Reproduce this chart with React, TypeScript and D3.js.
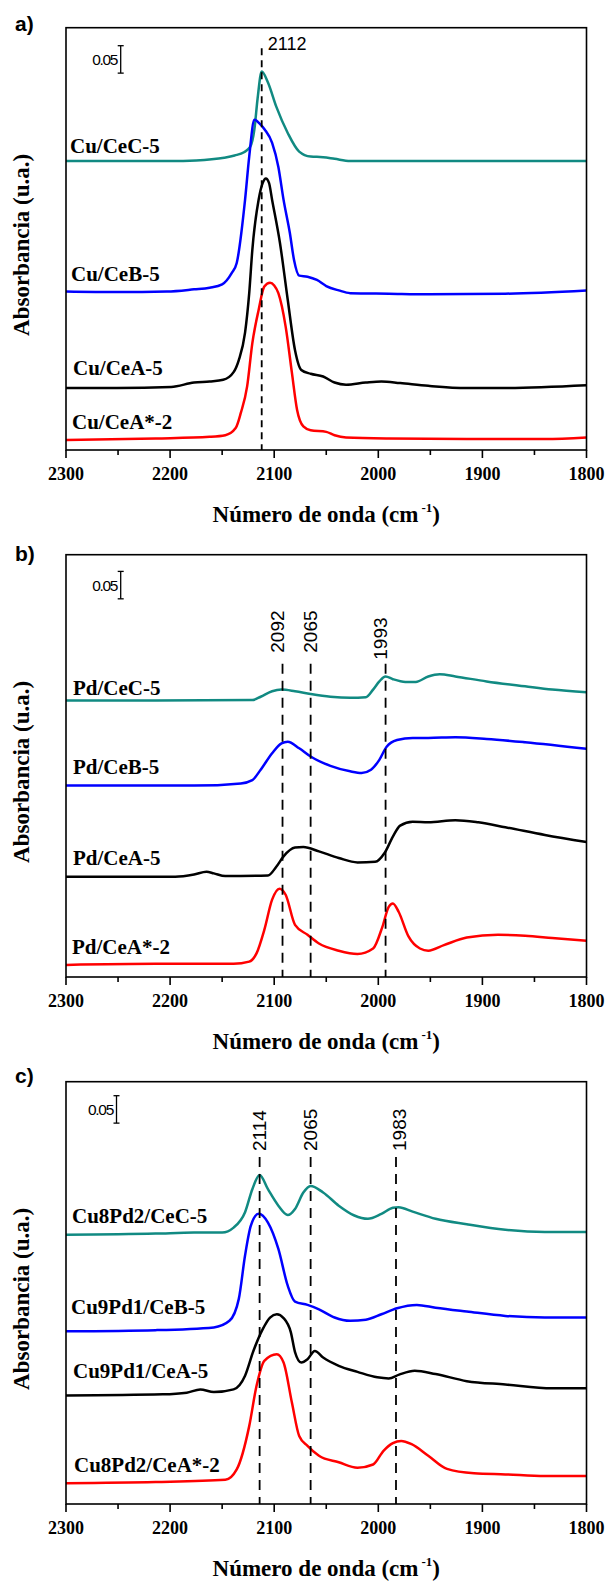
import React from 'react';
import * as d3 from 'd3';

type Pt = [number, number]; // [wavenumber (cm-1), absorbance incl. stacking offset]

// ---------- Panel a) ----------
const cuCeC5: Pt[] = [[2300,0.527],[2200,0.527],[2175,0.528],[2160,0.530],[2148,0.533],[2138,0.537],[2129,0.543],[2123,0.553],[2119,0.585],[2116,0.640],[2112,0.690],[2106,0.670],[2098,0.626],[2087,0.578],[2076,0.544],[2065,0.535],[2053,0.534],[2042,0.531],[2027,0.527],[1950,0.527],[1800,0.527]];
const cuCeB5: Pt[] = [[2300,0.289],[2251,0.288],[2203,0.289],[2177,0.293],[2162,0.296],[2150,0.302],[2141,0.322],[2136,0.341],[2128,0.456],[2124,0.535],[2119,0.602],[2114,0.595],[2109,0.584],[2102,0.560],[2096,0.516],[2091,0.456],[2085,0.396],[2081,0.347],[2076,0.318],[2068,0.316],[2059,0.310],[2050,0.299],[2038,0.291],[2027,0.286],[1990,0.285],[1952,0.284],[1878,0.285],[1800,0.291]];
const cuCeA5: Pt[] = [[2300,0.113],[2251,0.113],[2199,0.115],[2177,0.123],[2162,0.125],[2149,0.128],[2139,0.142],[2134,0.164],[2128,0.214],[2124,0.286],[2121,0.365],[2115,0.456],[2111,0.487],[2108,0.495],[2105,0.487],[2102,0.456],[2094.5,0.378],[2087,0.274],[2080,0.182],[2074,0.146],[2065,0.139],[2053,0.134],[2042,0.123],[2031,0.119],[2012,0.123],[1997,0.125],[1979,0.122],[1952,0.117],[1915,0.113],[1878,0.113],[1800,0.118]];
const cuCeAstar2: Pt[] = [[2300,0.018],[2214,0.021],[2162,0.024],[2147,0.027],[2137,0.040],[2132,0.068],[2126,0.116],[2121,0.195],[2115,0.255],[2109.5,0.298],[2104,0.305],[2100,0.300],[2096,0.286],[2089,0.225],[2083,0.141],[2078,0.073],[2072,0.043],[2065,0.036],[2050,0.033],[2042,0.027],[2031,0.023],[1990,0.021],[1915,0.020],[1840,0.020],[1800,0.023]];

// ---------- Panel b) ----------
const pdCeC5: Pt[] = [[2300,0.504],[2214,0.504],[2121,0.505],[2113,0.511],[2102,0.521],[2093,0.524],[2080,0.521],[2065,0.516],[2046,0.511],[2027,0.509],[2012,0.510],[2005,0.524],[1999,0.539],[1993,0.548],[1986,0.543],[1974,0.538],[1964,0.538],[1952,0.548],[1941,0.552],[1926,0.548],[1896,0.539],[1859,0.530],[1833,0.524],[1800,0.519]];
const pdCeB5: Pt[] = [[2300,0.349],[2177,0.349],[2132,0.353],[2121,0.359],[2113,0.378],[2102,0.408],[2093,0.426],[2087,0.429],[2076,0.417],[2065,0.402],[2046,0.385],[2027,0.375],[2016,0.372],[2007,0.378],[1999,0.396],[1992,0.420],[1982,0.432],[1967,0.436],[1952,0.436],[1926,0.437],[1896,0.434],[1859,0.428],[1800,0.416]];
const pdCeA5: Pt[] = [[2300,0.183],[2195,0.183],[2177,0.187],[2165,0.192],[2158,0.189],[2147,0.184],[2106,0.185],[2098,0.201],[2091,0.220],[2080,0.236],[2072,0.237],[2057,0.229],[2038,0.217],[2020,0.209],[2003,0.210],[1994,0.226],[1986,0.256],[1979,0.276],[1967,0.283],[1952,0.282],[1926,0.286],[1904,0.282],[1878,0.273],[1840,0.259],[1800,0.246]];
const pdCeAstar2: Pt[] = [[2300,0.022],[2214,0.024],[2139,0.024],[2124,0.028],[2117,0.043],[2109.5,0.086],[2102,0.141],[2095,0.161],[2089,0.150],[2080,0.095],[2068,0.077],[2057,0.061],[2038,0.048],[2020,0.042],[2005,0.052],[1996,0.092],[1990,0.128],[1986,0.134],[1980.5,0.119],[1971,0.074],[1960,0.052],[1952,0.048],[1937,0.058],[1915,0.072],[1885,0.077],[1859,0.075],[1833,0.071],[1800,0.066]];

// ---------- Panel c) ----------
const cu8pd2CeC5: Pt[] = [[2300,0.491],[2214,0.493],[2177,0.495],[2150,0.495],[2139,0.504],[2128,0.532],[2121,0.574],[2114,0.600],[2106,0.574],[2096,0.544],[2087,0.527],[2080,0.538],[2072,0.568],[2065,0.580],[2053,0.568],[2038,0.544],[2023,0.526],[2010,0.520],[1997,0.529],[1986,0.540],[1980.5,0.541],[1967,0.533],[1945,0.520],[1915,0.510],[1878,0.500],[1840,0.496],[1800,0.496]];
const cu9pd1CeB5: Pt[] = [[2300,0.315],[2214,0.317],[2158,0.322],[2143,0.334],[2134,0.374],[2128,0.453],[2122.5,0.507],[2115,0.529],[2106,0.513],[2096,0.465],[2087,0.398],[2080,0.369],[2068,0.363],[2057,0.355],[2042,0.340],[2027,0.334],[2012,0.336],[1997,0.346],[1982,0.357],[1963,0.363],[1945,0.358],[1915,0.351],[1878,0.343],[1840,0.340],[1800,0.340]];
const cu9pd1CeA5: Pt[] = [[2300,0.198],[2207,0.200],[2184,0.203],[2171,0.209],[2158,0.204],[2139,0.209],[2128,0.234],[2120,0.279],[2111,0.319],[2104,0.340],[2097.5,0.346],[2091,0.339],[2084,0.313],[2080,0.277],[2074,0.258],[2068,0.264],[2061,0.279],[2053,0.267],[2038,0.252],[2020,0.241],[2001,0.231],[1990,0.229],[1980,0.236],[1965,0.243],[1945,0.237],[1915,0.224],[1878,0.218],[1833,0.211],[1800,0.211]];
const cu8pd2CeAstar2: Pt[] = [[2300,0.038],[2214,0.040],[2147,0.044],[2136,0.063],[2124,0.142],[2117,0.215],[2109.5,0.261],[2097.5,0.273],[2091,0.258],[2083,0.185],[2076,0.124],[2068,0.106],[2057,0.088],[2038,0.076],[2020,0.066],[2005,0.072],[1995,0.097],[1986,0.111],[1978,0.115],[1968,0.109],[1952,0.088],[1934,0.064],[1908,0.056],[1878,0.054],[1840,0.051],[1800,0.051]];

// ---------- labels / ticks ----------
const labelsA = ['Cu/CeC-5', 'Cu/CeB-5', 'Cu/CeA-5', 'Cu/CeA*-2'];
const labelsB = ['Pd/CeC-5', 'Pd/CeB-5', 'Pd/CeA-5', 'Pd/CeA*-2'];
const labelsC = ['Cu8Pd2/CeC-5', 'Cu9Pd1/CeB-5', 'Cu9Pd1/CeA-5', 'Cu8Pd2/CeA*-2'];
const peaksA = [2112];
const peaksB = [2092, 2065, 1993];
const peaksC = [2114, 2065, 1983];
const panelLetters = ['a)', 'b)', 'c)'];
const xMajorTicks = [2300, 2200, 2100, 2000, 1900, 1800];
const xMinorTicks = [2250, 2150, 2050, 1950, 1850];
const xDomain: [number, number] = [2300, 1800];
const yDomain: [number, number] = [0, 0.77];
const scaleBarValue = 0.05;
const scaleBarLabel = '0.05';
const xTitle = 'Número de onda (cm';
const yTitle = 'Absorbancia (u.a.)';

// ---------- layout / style (not data) ----------
const COLORS = ['#118a82', '#0000ff', '#000000', '#ff0000'];
const LEFT = 66, RIGHT = 586.5;
const TOP0 = 27.7, STEP = 527, PANEL_H = 422.3;
const SERIF = '"Liberation Serif", "Times New Roman", serif';
const SANS = '"Liberation Sans", Arial, sans-serif';

const panels = [
  {
    series: [cuCeC5, cuCeB5, cuCeA5, cuCeAstar2], labels: labelsA, peaks: peaksA,
    labelY: [125.3, 253.3, 347.3, 401.3], labelX: [70, 71, 73, 72],
    letterY: 3.3, bar: { x: 120.7, top: 18 }, dash: '7,5',
    lineTop: 20.6, rotated: false, peakTextY: [22.3], peakDx: [6],
  },
  {
    series: [pdCeC5, pdCeB5, pdCeA5, pdCeAstar2], labels: labelsB, peaks: peaksB,
    labelY: [140, 219, 310, 399], labelX: [73, 73, 73, 72],
    letterY: 6.7, bar: { x: 120.7, top: 16.7 }, dash: '10,7',
    lineTop: 109, rotated: true, peakTextY: [98, 98, 105], peakDx: [-5.5, 0, -5.5],
  },
  {
    series: [cu8pd2CeC5, cu9pd1CeB5, cu9pd1CeA5, cu8pd2CeAstar2], labels: labelsC, peaks: peaksC,
    labelY: [141.3, 232.3, 296.3, 390], labelX: [72, 71, 73, 74],
    letterY: 1.5, bar: { x: 116.5, top: 14 }, dash: '10,7',
    lineTop: 75.3, rotated: true, peakTextY: [69.3, 69.3, 69.3], peakDx: [0, 0, 3],
  },
];

function Panel({ p, i }: { p: (typeof panels)[number]; i: number }) {
  const top = TOP0 + i * STEP;
  const bottom = top + PANEL_H;
  const x = d3.scaleLinear().domain(xDomain).range([LEFT, RIGHT]);
  const y = d3.scaleLinear().domain(yDomain).range([bottom, top]);
  const line = d3.line<Pt>().x(d => x(d[0])).y(d => y(d[1])).curve(d3.curveMonotoneX);
  const barLen = y(0) - y(scaleBarValue);
  const barTop = top + p.bar.top;
  const midY = (top + bottom) / 2 + 6;
  return (
    <g>
      <text x={15} y={top + p.letterY} fontFamily={SANS} fontWeight="bold" fontSize={21}>{panelLetters[i]}</text>
      {p.series.map((s, k) => (
        <path key={k} d={line(s) || ''} fill="none" stroke={COLORS[k]} strokeWidth={2.5} strokeLinejoin="round" />
      ))}
      {p.peaks.map((pk, k) => {
        const px = x(pk);
        return (
          <g key={k}>
            <line x1={px} x2={px} y1={top + p.lineTop} y2={bottom} stroke="#000" strokeWidth={1.8} strokeDasharray={p.dash} />
            {p.rotated ? (
              <text transform={`translate(${px + p.peakDx[k] + 6.8},${top + p.peakTextY[k]}) rotate(-90)`}
                fontFamily={SANS} fontSize={19}>{pk}</text>
            ) : (
              <text x={px + p.peakDx[k]} y={top + p.peakTextY[k]} fontFamily={SANS} fontSize={18}>{pk}</text>
            )}
          </g>
        );
      })}
      {p.labels.map((lb, k) => (
        <text key={k} x={p.labelX[k]} y={top + p.labelY[k]} fontFamily={SERIF} fontWeight="bold" fontSize={21}>{lb}</text>
      ))}
      <g stroke="#000" strokeWidth={1.3}>
        <line x1={p.bar.x} x2={p.bar.x} y1={barTop} y2={barTop + barLen} />
        <line x1={p.bar.x - 3} x2={p.bar.x + 3} y1={barTop} y2={barTop} />
        <line x1={p.bar.x - 3} x2={p.bar.x + 3} y1={barTop + barLen} y2={barTop + barLen} />
      </g>
      <text x={p.bar.x - 3.5} y={barTop + barLen / 2 + 5.5} textAnchor="end" fontFamily={SANS} fontSize={15.5} letterSpacing={-1.3}>{scaleBarLabel}</text>
      <rect x={LEFT} y={top} width={RIGHT - LEFT} height={PANEL_H} fill="none" stroke="#000" strokeWidth={1.6} />
      {xMajorTicks.map(t => (
        <g key={t}>
          <line x1={x(t)} x2={x(t)} y1={bottom} y2={bottom + 8} stroke="#000" strokeWidth={1.6} />
          <text x={x(t)} y={bottom + 29.5} textAnchor="middle" fontFamily={SERIF} fontWeight="bold" fontSize={18}>{t}</text>
        </g>
      ))}
      {xMinorTicks.map(t => (
        <line key={t} x1={x(t)} x2={x(t)} y1={bottom} y2={bottom + 5} stroke="#000" strokeWidth={1.6} />
      ))}
      <text x={(LEFT + RIGHT) / 2} y={bottom + 72} textAnchor="middle" fontFamily={SERIF} fontWeight="bold" fontSize={23}>
        <tspan>{xTitle}</tspan>
        <tspan dx={3} dy={-10} fontSize={13}>-1</tspan>
        <tspan dy={10}>)</tspan>
      </text>
      <text transform={`translate(29,${midY}) rotate(-90)`} textAnchor="middle" fontFamily={SERIF} fontWeight="bold" fontSize={23}>{yTitle}</text>
    </g>
  );
}

export default function App() {
  return (
    <svg width={610} height={1583} viewBox="0 0 610 1583"
      style={{ position: 'absolute', left: 0, top: 0, display: 'block', background: '#fff' }}>
      <rect x={0} y={0} width={610} height={1583} fill="#fff" />
      {panels.map((p, i) => <Panel key={i} p={p} i={i} />)}
    </svg>
  );
}
